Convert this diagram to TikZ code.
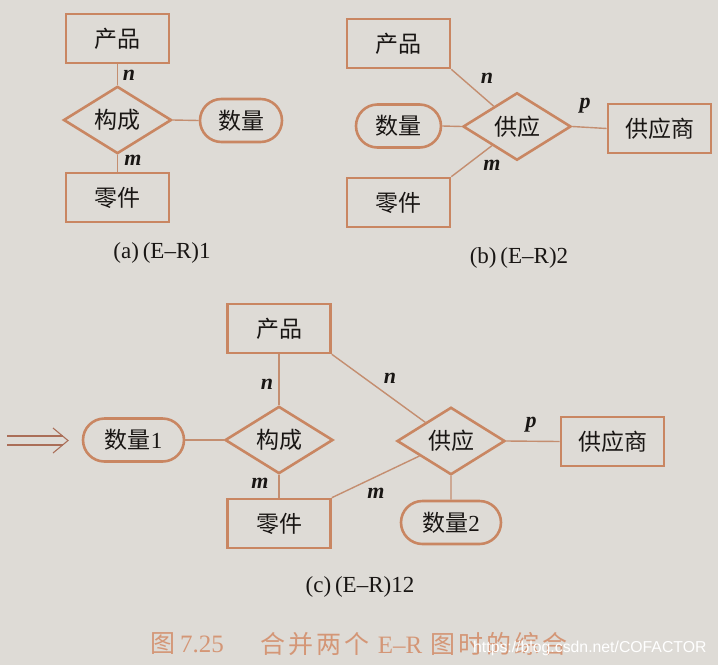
\documentclass[tikz,border=0pt]{standalone}
\usepackage{fontspec}
\setmainfont{Liberation Serif}
\newfontfamily\cjk{Noto Sans CJK SC}
\newfontfamily\capcjk[LetterSpace=12]{Noto Sans CJK SC}
\newfontfamily\wmfont{Liberation Sans}
\usetikzlibrary{shapes.geometric,shapes.misc,arrows.meta}
\definecolor{bg}{RGB}{222,219,214}
\definecolor{edge}{RGB}{201,134,98}
\definecolor{linec}{RGB}{196,142,112}
\definecolor{ink}{RGB}{25,22,20}
\definecolor{capc}{RGB}{212,150,118}
\definecolor{arrc}{RGB}{170,110,88}
\begin{document}
\begin{tikzpicture}[x=1pt,y=-1pt,
  lbl/.style={text=ink, font=\fontsize{23}{26}\selectfont\cjk},
  ent/.style={lbl, draw=edge, line width=2.6pt, rectangle, inner sep=0pt, minimum width=103pt, minimum height=49pt},
  rel/.style={lbl, draw=edge, line width=2.6pt, diamond, inner sep=0pt, minimum width=108pt, minimum height=55pt},
  attr/.style={lbl, draw=edge, line width=2.6pt, rounded rectangle, inner sep=0pt, minimum height=43pt},
  conn/.style={draw=linec, line width=1.4pt},
  arrline/.style={draw=arrc, line width=1.1pt},
  card/.style={text=ink, inner sep=0pt, font=\fontsize{22}{24}\selectfont\itshape\bfseries},
  subcap/.style={text=ink, inner sep=0pt, font=\fontsize{23}{26}\selectfont}
]
\fill[bg] (0,0) rectangle (718,665);
\useasboundingbox (0,0) rectangle (718,665);

% ---------- panel (a)
\node[ent] (pa) at (117.5,38.5) {产品};
\node[rel] (ca) at (117.5,120) {构成};
\node[attr, minimum width=82pt] (qa) at (241,120.5) {数量};
\node[ent] (za) at (117.5,197.5) {零件};
\draw[conn] (pa) -- (ca);
\draw[conn] (ca) -- (za);
\draw[conn] (ca.east) -- (qa.west);
\node[card] (na) at (129,75) {n};
\node[card] (ma) at (133,160) {m};
\node[subcap] (capa) at (162,253) {(a)\,(E–R)1};

% ---------- panel (b)
\node[ent] (pb) at (398.5,43.5) {产品};
\node[rel] (gb) at (517,126.5) {供应};
\node[attr, minimum width=85pt] (qb) at (398.5,126) {数量};
\node[ent] (sb) at (659.5,128.5) {供应商};
\node[ent] (zb) at (398.5,202.5) {零件};
\draw[conn] (pb.south east) -- (gb);
\draw[conn] (zb.north east) -- (gb);
\draw[conn] (qb.east) -- (gb.west);
\draw[conn] (gb.east) -- (sb.west);
\node[card] (nb) at (487,78) {n};
\node[card] (pbl) at (585,106) {p};
\node[card] (mb) at (492,165) {m};
\node[subcap] (capb) at (519,258) {(b)\,(E–R)2};

% ---------- panel (c)
\node[ent] (pc) at (279,328.5) {产品};
\node[rel] (cc) at (279,440) {构成};
\node[attr, minimum width=101pt] (q1) at (133.5,440) {数量\rmfamily 1};
\node[ent] (zc) at (279,523.5) {零件};
\node[rel] (gc) at (451,441) {供应};
\node[ent] (sc) at (612.5,441.5) {供应商};
\node[attr, minimum width=100pt] (q2) at (451,522.5) {数量\rmfamily 2};
\draw[conn] (pc) -- (cc);
\draw[conn] (cc) -- (zc);
\draw[conn] (q1.east) -- (cc.west);
\draw[conn] (pc.south east) -- (gc);
\draw[conn] (zc.north east) -- (gc);
\draw[conn] (gc.east) -- (sc.west);
\draw[conn] (gc) -- (q2);
\node[card] (nc1) at (267,384) {n};
\node[card] (nc2) at (390,378) {n};
\node[card] (mc1) at (260,483) {m};
\node[card] (mc2) at (376,493) {m};
\node[card] (pcl) at (531,425) {p};
\node[subcap] (capc) at (360,587) {(c)\,(E–R)12};

% merge arrow (double shaft with open chevron head)
\coordinate (aS1) at (7,436);
\coordinate (aE1) at (63,436);
\coordinate (aS2) at (7,445);
\coordinate (aE2) at (63,445);
\coordinate (aTop) at (53,428);
\coordinate (aTip) at (68,440.5);
\coordinate (aBot) at (53,453);
\draw[arrline] (aS1) -- (aE1);
\draw[arrline] (aS2) -- (aE2);
\draw[arrline, line join=miter] (aTop) -- (aTip) -- (aBot);

% figure caption and watermark
\node[anchor=west, inner sep=0pt, text=capc, font=\fontsize{25}{28}\selectfont\cjk] (fig1) at (150,644) {图\hspace{0.2em}\rmfamily 7.25};
\node[anchor=west, inner sep=0pt, text=capc, font=\fontsize{25}{28}\selectfont\capcjk] (fig2) at (260,644) {合并两个 {\rmfamily E–R} 图时的综合};
\node[anchor=base west, inner sep=0pt, text=white, font=\fontsize{15.8}{18}\selectfont\wmfont] (wm) at (473,652) {https://blog.csdn.net/COFACTOR};
\end{tikzpicture}
\end{document}
